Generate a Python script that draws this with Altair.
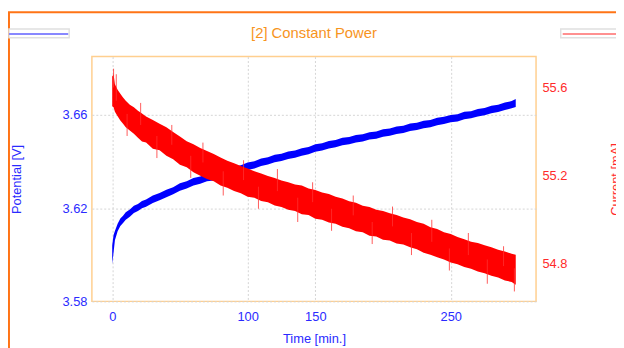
import altair as alt
import pandas as pd

# ---- data ----
time_min = [0, 1, 2, 4, 6, 8, 10, 13, 16, 19, 22, 25,
            30, 35, 40, 45, 50, 55, 60, 65, 70, 75, 80, 85, 90, 95, 100,
            105, 110, 115, 120, 125, 130, 135, 140, 145, 150, 155, 160, 165,
            170, 175, 180, 185, 190, 195, 200, 205, 210, 215, 220, 225, 230,
            235, 240, 245, 250, 255, 260, 265, 270, 275, 280, 285, 290, 295, 298]

potential_lo = [3.5960, 3.6010, 3.6062, 3.6101, 3.6123, 3.6136, 3.6150, 3.6163, 3.6179, 3.6188,
                3.6199, 3.6206, 3.6222, 3.6234, 3.6247, 3.6259, 3.6275, 3.6284, 3.6297, 3.6305,
                3.6315, 3.6319, 3.6328, 3.6335, 3.6346, 3.6353, 3.6364, 3.6370, 3.6381, 3.6387,
                3.6397, 3.6402, 3.6411, 3.6416, 3.6425, 3.6431, 3.6442, 3.6447, 3.6456, 3.6461,
                3.6470, 3.6474, 3.6482, 3.6486, 3.6494, 3.6498, 3.6506, 3.6511, 3.6518, 3.6522,
                3.6531, 3.6535, 3.6543, 3.6547, 3.6556, 3.6561, 3.6568, 3.6572, 3.6581, 3.6585,
                3.6593, 3.6598, 3.6607, 3.6612, 3.6621, 3.6628, 3.6634]
potential_hi = [3.6040, 3.6085, 3.6102, 3.6133, 3.6155, 3.6167, 3.6182, 3.6194, 3.6210, 3.6218,
                3.6231, 3.6237, 3.6254, 3.6265, 3.6279, 3.6290, 3.6307, 3.6315, 3.6329, 3.6336,
                3.6347, 3.6350, 3.6360, 3.6366, 3.6378, 3.6384, 3.6396, 3.6401, 3.6413, 3.6418,
                3.6429, 3.6433, 3.6443, 3.6447, 3.6457, 3.6462, 3.6474, 3.6478, 3.6488, 3.6492,
                3.6502, 3.6505, 3.6514, 3.6517, 3.6526, 3.6529, 3.6538, 3.6542, 3.6550, 3.6553,
                3.6563, 3.6566, 3.6575, 3.6578, 3.6588, 3.6592, 3.6600, 3.6603, 3.6613, 3.6616,
                3.6625, 3.6629, 3.6639, 3.6643, 3.6653, 3.6659, 3.6668]

current_lo = [55.515, 55.510, 55.490, 55.470, 55.450, 55.435, 55.420, 55.405, 55.390, 55.372,
              55.355, 55.350, 55.322, 55.315, 55.290, 55.275, 55.250, 55.238, 55.215, 55.200,
              55.185, 55.175, 55.155, 55.145, 55.130, 55.120, 55.105, 55.100, 55.085, 55.080,
              55.065, 55.058, 55.045, 55.040, 55.025, 55.022, 55.005, 55.000, 54.988, 54.982,
              54.968, 54.962, 54.948, 54.944, 54.928, 54.924, 54.910, 54.906, 54.893, 54.888,
              54.875, 54.866, 54.850, 54.842, 54.830, 54.820, 54.806, 54.798, 54.786, 54.778,
              54.766, 54.758, 54.746, 54.738, 54.725, 54.718, 54.705]
current_hi = [55.650, 55.660, 55.615, 55.590, 55.572, 55.555, 55.540, 55.522, 55.510, 55.495,
              55.482, 55.468, 55.452, 55.435, 55.420, 55.398, 55.378, 55.356, 55.342, 55.325,
              55.312, 55.298, 55.282, 55.268, 55.256, 55.244, 55.232, 55.220, 55.210, 55.198,
              55.190, 55.178, 55.170, 55.160, 55.155, 55.142, 55.135, 55.124, 55.117, 55.104,
              55.097, 55.084, 55.077, 55.064, 55.058, 55.046, 55.040, 55.030, 55.022, 55.010,
              55.002, 54.990, 54.982, 54.966, 54.958, 54.944, 54.936, 54.922, 54.912, 54.900,
              54.895, 54.884, 54.876, 54.864, 54.856, 54.846, 54.842]

spike_t = [1, 3, 11, 21, 33, 44, 58, 67, 82, 97, 108, 122, 137, 148, 162, 178, 192,
           207, 221, 236, 249, 263, 277, 289, 297]
spike_lo = [55.600, 55.540, 55.380, 55.430, 55.280, 55.340, 55.190, 55.260, 55.110, 55.180,
            55.050, 55.130, 54.990, 55.080, 54.950, 55.020, 54.890, 54.970, 54.840, 54.900,
            54.770, 54.840, 54.710, 54.790, 54.675]
spike_hi = [55.685, 55.660, 55.480, 55.530, 55.380, 55.430, 55.290, 55.350, 55.220, 55.270,
            55.150, 55.230, 55.100, 55.170, 55.050, 55.110, 54.990, 55.060, 54.940, 55.000,
            54.870, 54.940, 54.820, 54.880, 54.780]

x_ticks = [0, 100, 150, 250]
potential_ticks = [3.58, 3.62, 3.66]
current_ticks = [54.8, 55.2, 55.6]

# ---- styling ----
FONT = "Liberation Sans"
BLUE = "#0000ff"
RED = "#ff0000"
BLUE_TXT = "#2a2aff"
RED_TXT = "#ff2a2a"
ORANGE = "#ff7416"
TITLE_ORANGE = "#f7941d"

pot_df = pd.DataFrame({"t": time_min, "lo": potential_lo, "hi": potential_hi})
cur_df = pd.DataFrame({"t": time_min, "lo": current_lo, "hi": current_hi})
spk_df = pd.DataFrame({"t": spike_t, "lo": spike_lo, "hi": spike_hi})
one = pd.DataFrame({"k": [0]})

x_enc = alt.X(
    "t:Q",
    scale=alt.Scale(domain=[-15, 313], nice=False, zero=False),
    axis=alt.Axis(
        values=x_ticks, title="Time [min.]", labelColor=BLUE_TXT, titleColor=BLUE_TXT,
        labelFontSize=13, titleFontSize=13, titleFontWeight="normal", ticks=False,
        tickSize=0, domain=False, grid=True, gridColor="#d4d4d4", gridDash=[2, 2],
        labelPadding=9, titlePadding=10,
    ),
)

blue = alt.Chart(pot_df).mark_area(color=BLUE, opacity=1).encode(
    x=x_enc,
    y=alt.Y(
        "lo:Q",
        scale=alt.Scale(domain=[3.58, 3.685], nice=False, zero=False),
        axis=alt.Axis(
            values=potential_ticks, format=".2f", title="Potential [V]",
            labelColor=BLUE_TXT, titleColor=BLUE_TXT, labelFontSize=13, titleFontSize=13,
            titleFontWeight="normal", ticks=False, tickSize=0, domain=False, grid=True,
            gridColor="#d4d4d4", gridDash=[2, 2], labelPadding=5, titlePadding=39,
        ),
    ),
    y2="hi:Q",
)

cur_y = alt.Y(
    "lo:Q",
    scale=alt.Scale(domain=[54.63, 55.74], nice=False, zero=False),
    axis=alt.Axis(
        values=current_ticks, format=".1f", title="Current [mA]", orient="right",
        labelColor=RED_TXT, titleColor=RED_TXT, labelFontSize=13, titleFontSize=13,
        titleFontWeight="normal", ticks=False, tickSize=0, domain=False, grid=False,
        labelPadding=6, titlePadding=56, titleAngle=270,
    ),
)
red_area = alt.Chart(cur_df).mark_area(color=RED, opacity=1).encode(x=x_enc, y=cur_y, y2="hi:Q")
red_spikes = alt.Chart(spk_df).mark_rule(color="#ff3030", strokeWidth=1, opacity=0.8).encode(
    x=x_enc, y=cur_y, y2="hi:Q")
red = alt.layer(red_area, red_spikes)

# decorative frame and truncated legend swatches
frame_left = alt.Chart(one).mark_rule(color=ORANGE, strokeWidth=2).encode(
    x=alt.value(-84), y=alt.value(-45), y2=alt.value(300))
frame_top = alt.Chart(one).mark_rule(color=ORANGE, strokeWidth=2).encode(
    x=alt.value(-85), x2=alt.value(540), y=alt.value(-45))
box_left = alt.Chart(one).mark_rect(fill="white", stroke="#e0e0e0", strokeWidth=1.5).encode(
    x=alt.value(-84), x2=alt.value(-23), y=alt.value(-28), y2=alt.value(-19))
line_left = alt.Chart(one).mark_rule(color="#8888ff", strokeWidth=2).encode(
    x=alt.value(-84), x2=alt.value(-24), y=alt.value(-23))
box_right = alt.Chart(one).mark_rect(fill="white", stroke="#e0e0e0", strokeWidth=1.5).encode(
    x=alt.value(475), x2=alt.value(540), y=alt.value(-28), y2=alt.value(-19))
line_right = alt.Chart(one).mark_rule(color="#ff9090", strokeWidth=2).encode(
    x=alt.value(477), x2=alt.value(540), y=alt.value(-23))

chart = alt.layer(
    frame_left, frame_top, box_left, line_left, box_right, line_right, blue, red
).resolve_scale(y="independent").properties(
    width=450,
    height=248,
    title=alt.TitleParams(
        "[2] Constant Power", color=TITLE_ORANGE, fontSize=15, font=FONT,
        fontWeight="normal", anchor="middle", offset=16, frame="group", dy=46,
    ),
    autosize=alt.AutoSizeParams(type="none"),
    padding={"left": 85, "top": 47, "right": 81, "bottom": 45},
).configure(font=FONT).configure_view(stroke="#ffcf8f", strokeWidth=1.5)

chart.save("out.html", embed_options={"renderer": "svg", "actions": False})
